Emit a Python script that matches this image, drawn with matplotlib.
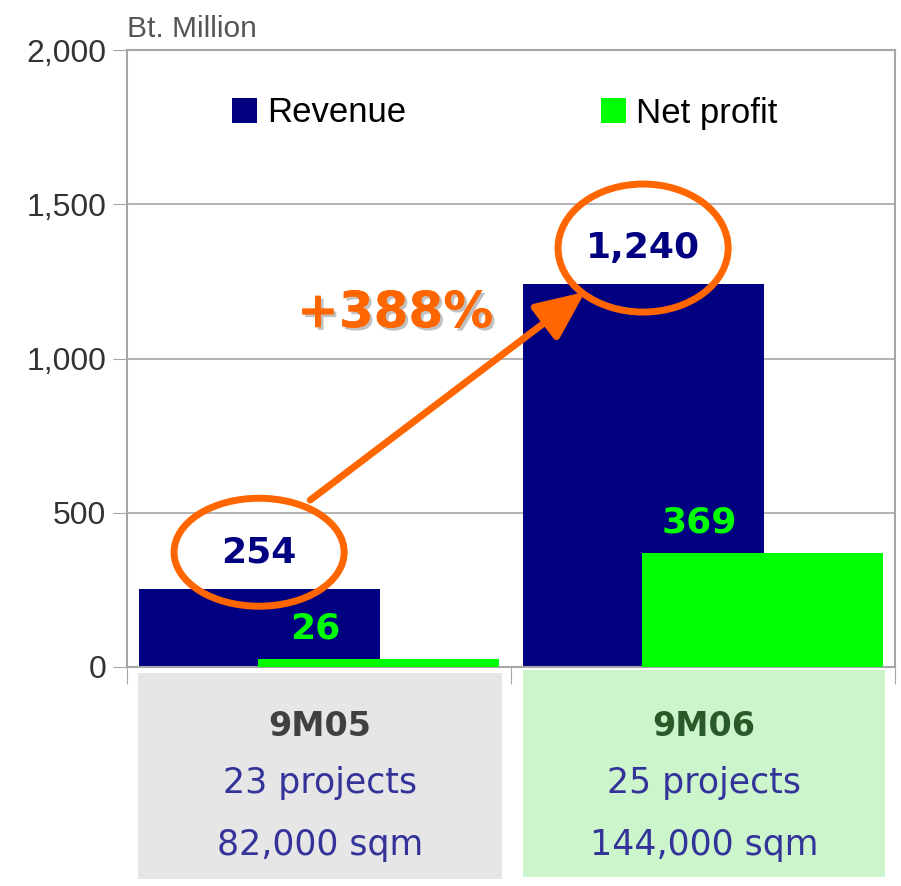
import matplotlib.pyplot as plt
import matplotlib.patheffects as pe
from matplotlib.patches import Ellipse, Rectangle
import matplotlib.transforms as mtransforms
import numpy as np

# data
periods = ["9M05", "9M06"]
projects = ["23 projects", "25 projects"]
areas = ["82,000 sqm", "144,000 sqm"]
revenue = [254, 1240]
net_profit = [26, 369]
growth_label = "+388%"

navy = "#000080"
green = "#00ff00"
orange = "#ff6600"
grid_gray = "#a6a6a6"

fig = plt.figure(figsize=(9.01, 8.86), dpi=100)
ax = fig.add_axes([127 / 901, 1 - 667 / 886, 768 / 901, 617 / 886])

x = np.arange(len(periods))
width = 0.628
off = 0.156
ax.bar(x - off, revenue, width, color=navy, label="Revenue", zorder=2)
ax.bar(x + off, net_profit, width, color=green, label="Net profit", zorder=3)

ax.set_xlim(-0.5, 1.5)
ax.set_ylim(0, 2000)
ax.set_yticks([0, 500, 1000, 1500, 2000])
ax.set_yticklabels(["0", "500", "1,000", "1,500", "2,000"],
                   fontsize=23, color="#333333", family="Liberation Sans")
ax.set_xticks([-0.5, 0.5, 1.5])
ax.set_xticklabels([])
ax.tick_params(axis="y", length=10, color=grid_gray, pad=5)
ax.tick_params(axis="x", length=12, color=grid_gray)
ax.grid(axis="y", color=grid_gray, lw=1.2, zorder=0)
for s in ax.spines.values():
    s.set_color(grid_gray)
    s.set_linewidth(1.5)

ax.text(0.0, 1.012, "Bt. Million", transform=ax.transAxes, fontsize=21.5,
        color="#555555", family="Liberation Sans", ha="left", va="bottom")

ax.legend(loc="center left", bbox_to_anchor=(105 / 768, 554 / 617), ncol=2,
          frameon=False, prop={"family": "Liberation Sans", "size": 25},
          handlelength=0.72, handleheight=0.72, handletextpad=0.29,
          columnspacing=5.6, borderpad=0, borderaxespad=0)

# value labels
for i in range(len(periods)):
    ax.text(x[i] - off, revenue[i] + 118, f"{revenue[i]:,}", ha="center",
            va="center", fontsize=26, fontweight="bold", color=navy, zorder=6)
    ax.text(x[i] - 0.01, net_profit[i] + 100, f"{net_profit[i]:,}", ha="center",
            va="center", fontsize=26, fontweight="bold", color=green, zorder=6)

# ellipses round revenue labels
ell_h = [350, 415]
for i in range(len(periods)):
    ax.add_patch(Ellipse((x[i] - off, revenue[i] + 118), 0.443, ell_h[i],
                         fill=False, ec=orange, lw=5, zorder=7))

# growth arrow
ax.annotate("", xy=(0.693, 1216), xytext=(-0.023, 541),
            arrowprops=dict(arrowstyle="-|>,head_length=0.85,head_width=0.38",
                            color=orange, lw=5, mutation_scale=35,
                            shrinkA=0, shrinkB=0), zorder=7)
ax.text(0.198, 1147, growth_label, ha="center", va="center", fontsize=36,
        fontweight="bold", color=orange, zorder=8,
        path_effects=[pe.withSimplePatchShadow(offset=(2, -2),
                                               shadow_rgbFace="#999999", alpha=0.6),
                      pe.Normal()])

# category boxes below the axis
trans = mtransforms.blended_transform_factory(ax.transData, ax.transAxes)
box_x = [(-0.471, 0.477), (0.531, 1.474)]
box_y = [(-0.0097, -0.344), (-0.0049, -0.341)]
box_fc = ["#e6e6e6", "#ccf5cc"]
title_c = ["#404040", "#2a5a2a"]
for i in range(len(periods)):
    x0, x1 = box_x[i]
    y0, y1 = box_y[i]
    ax.add_patch(Rectangle((x0, y1), x1 - x0, y0 - y1, transform=trans,
                           facecolor=box_fc[i], edgecolor="none", clip_on=False))
    cx = (x0 + x1) / 2
    ax.text(cx, -0.097, periods[i], transform=trans, ha="center", va="center",
            fontsize=24, fontweight="bold", color=title_c[i])
    ax.text(cx, -0.188, projects[i], transform=trans, ha="center", va="center",
            fontsize=25, color="#333399")
    ax.text(cx, -0.289, areas[i], transform=trans, ha="center", va="center",
            fontsize=25, color="#333399")

fig.savefig("out.png", dpi=100)
